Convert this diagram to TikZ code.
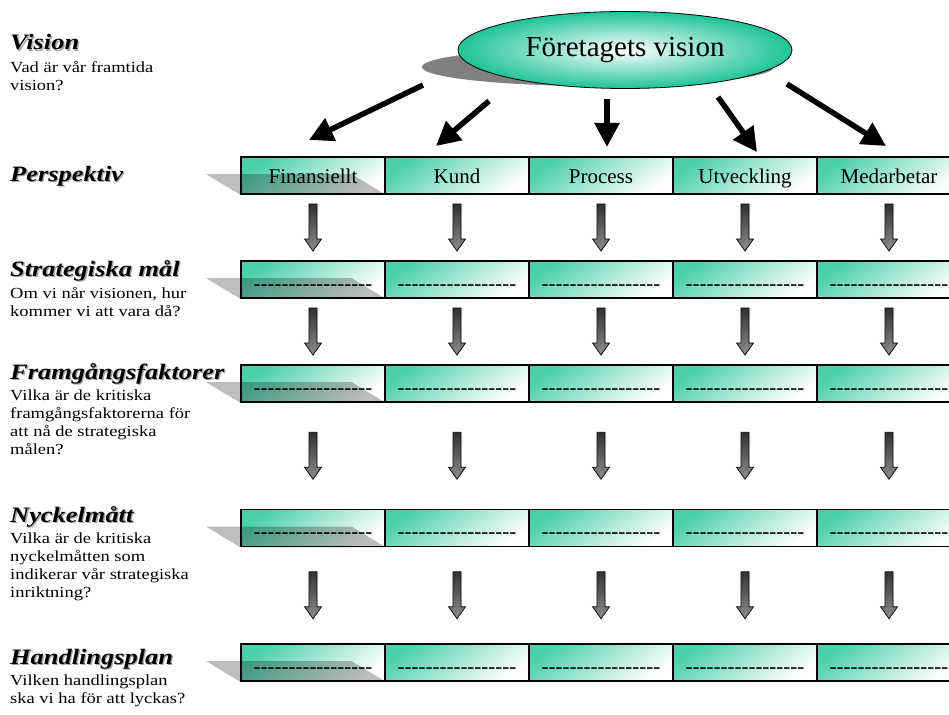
\documentclass[tikz,border=0pt]{standalone}
\usepackage{fontspec}
\setmainfont{Liberation Serif}[FakeStretch=1.2]
\newfontfamily\cellfont{Liberation Serif}
\usepackage{xcolor}
\usetikzlibrary{positioning, arrows.meta, shapes.geometric, calc}

\definecolor{visionteal}{RGB}{30,196,150}
\definecolor{cellteal}{RGB}{75,208,168}

\newcommand{\hy}{-\kern0pt}
\newcommand{\dashes}{\hy\hy\hy\hy\hy\hy\hy\hy\hy\hy\hy\hy\hy\hy\hy\hy\hy}
\newcommand{\txtshadow}[1]{\makebox[0pt][l]{\hspace{1.3pt}\raisebox{-1.3pt}{\textcolor{black!35}{#1}}}#1}

\begin{document}
\begin{tikzpicture}[
    x=1pt, y=-1pt,
    visionbox/.style={ellipse, draw=black, line width=0.8pt, minimum width=334pt, minimum height=77pt,
        inner color=white, outer color=visionteal, font=\cellfont\fontsize{29}{32}\selectfont},
    cell/.style={rectangle, draw=black, line width=1.6pt, minimum width=144pt, minimum height=37pt,
        inner sep=0pt, text height=16pt, text depth=1pt, shading=axis, top color=cellteal,
        bottom color=white, shading angle=35, font=\cellfont\fontsize{21}{23}\selectfont},
    dashcell/.style={cell, text height=22pt},
    ttl/.style={anchor=base west, inner sep=0pt, font=\fontsize{22}{24}\selectfont\bfseries\itshape},
    desc/.style={inner sep=0pt, align=left, font=\fontsize{15.4}{18}\selectfont},
    bigarrow/.style={line width=5.5pt, -{Triangle[length=24pt,width=24pt]}},
    grayarrow/.style={draw=black, line width=0.7pt, top color=black!80, bottom color=black!45},
    rowshadow/.style={fill=black, fill opacity=0.26}
]
    \useasboundingbox (0,0) rectangle (949,714);
    \clip (0,0) rectangle (949,714);

    % vision
    \fill[black!50] (598,67) ellipse [x radius=176, y radius=19];
    \node[visionbox] (vision) at (625,50) {Företagets vision};

    % rows of cells
    \foreach \col/\xc/\txt in {1/313/Finansiellt, 2/457/Kund, 3/601/Process, 4/745/Utveckling, 5/889/Medarbetar}
        \node[cell] (p\col) at (\xc,175.5) {\txt};
    \foreach \row/\yc in {s/279.5, f/383.5, n/528, h/662.5}
        \foreach \col/\xc in {1/313, 2/457, 3/601, 4/745, 5/889}
            \node[dashcell] (\row\col) at (\xc,\yc) {\dashes};

    % shadows under the first column
    \foreach \row in {p, s, f, n, h}
        \fill[rowshadow] ($(\row1.north west)+(-34,18)$) -- ($(\row1.north east)+(-34,18)$)
            -- (\row1.south east) -- (\row1.south west) -- cycle;

    % gray arrows between rows
    \foreach \a/\b in {p/s, s/f, f/n, n/h}
        \foreach \col in {1,...,5}
            \path[grayarrow] ($(\a\col.south)!0.5!(\b\col.north)$) ++(-4,-23.5) -- ++(8,0) -- ++(0,35)
                -- ++(4.5,0) -- ++(-8.5,12) -- ++(-8.5,-12) -- ++(4.5,0) -- cycle;

    % arrows from the vision
    \coordinate (v1) at (423,85);  \coordinate (e1) at (309,140);
    \coordinate (v2) at (489,101); \coordinate (e2) at (436,146);
    \coordinate (v3) at (607,99);  \coordinate (e3) at (607,147);
    \coordinate (v4) at (718,97);  \coordinate (e4) at (757,152);
    \coordinate (v5) at (787,84);  \coordinate (e5) at (886,146);
    \foreach \i in {1,...,5}
        \draw[bigarrow] (v\i) -- (e\i);

    % labels on the left
    \node[ttl] (visionttl) at (10,50) {\txtshadow{Vision}};
    \node[desc, below right=11pt and 0pt of visionttl.base west] (visiondesc) {Vad är vår framtida\\vision?};
    \node[ttl] (perspttl) at (10,181) {\txtshadow{Perspektiv}};
    \node[ttl] (stratttl) at (10,276) {\txtshadow{Strategiska mål}};
    \node[desc, below right=11pt and 0pt of stratttl.base west] (stratdesc) {Om vi når visionen, hur\\kommer vi att vara då?};
    \node[ttl] (framttl) at (10,379) {\txtshadow{Framgångsfaktorer}};
    \node[desc, below right=11pt and 0pt of framttl.base west] (framdesc) {Vilka är de kritiska\\framgångsfaktorerna för\\att nå de strategiska\\målen?};
    \node[ttl] (nyckttl) at (10,522) {\txtshadow{Nyckelmått}};
    \node[desc, below right=11pt and 0pt of nyckttl.base west] (nyckdesc) {Vilka är de kritiska\\nyckelmåtten som\\indikerar vår strategiska\\inriktning?};
    \node[ttl] (handttl) at (10,664) {\txtshadow{Handlingsplan}};
    \node[desc, below right=11pt and 0pt of handttl.base west] (handdesc) {Vilken handlingsplan\\ska vi ha för att lyckas?};
\end{tikzpicture}
\end{document}
